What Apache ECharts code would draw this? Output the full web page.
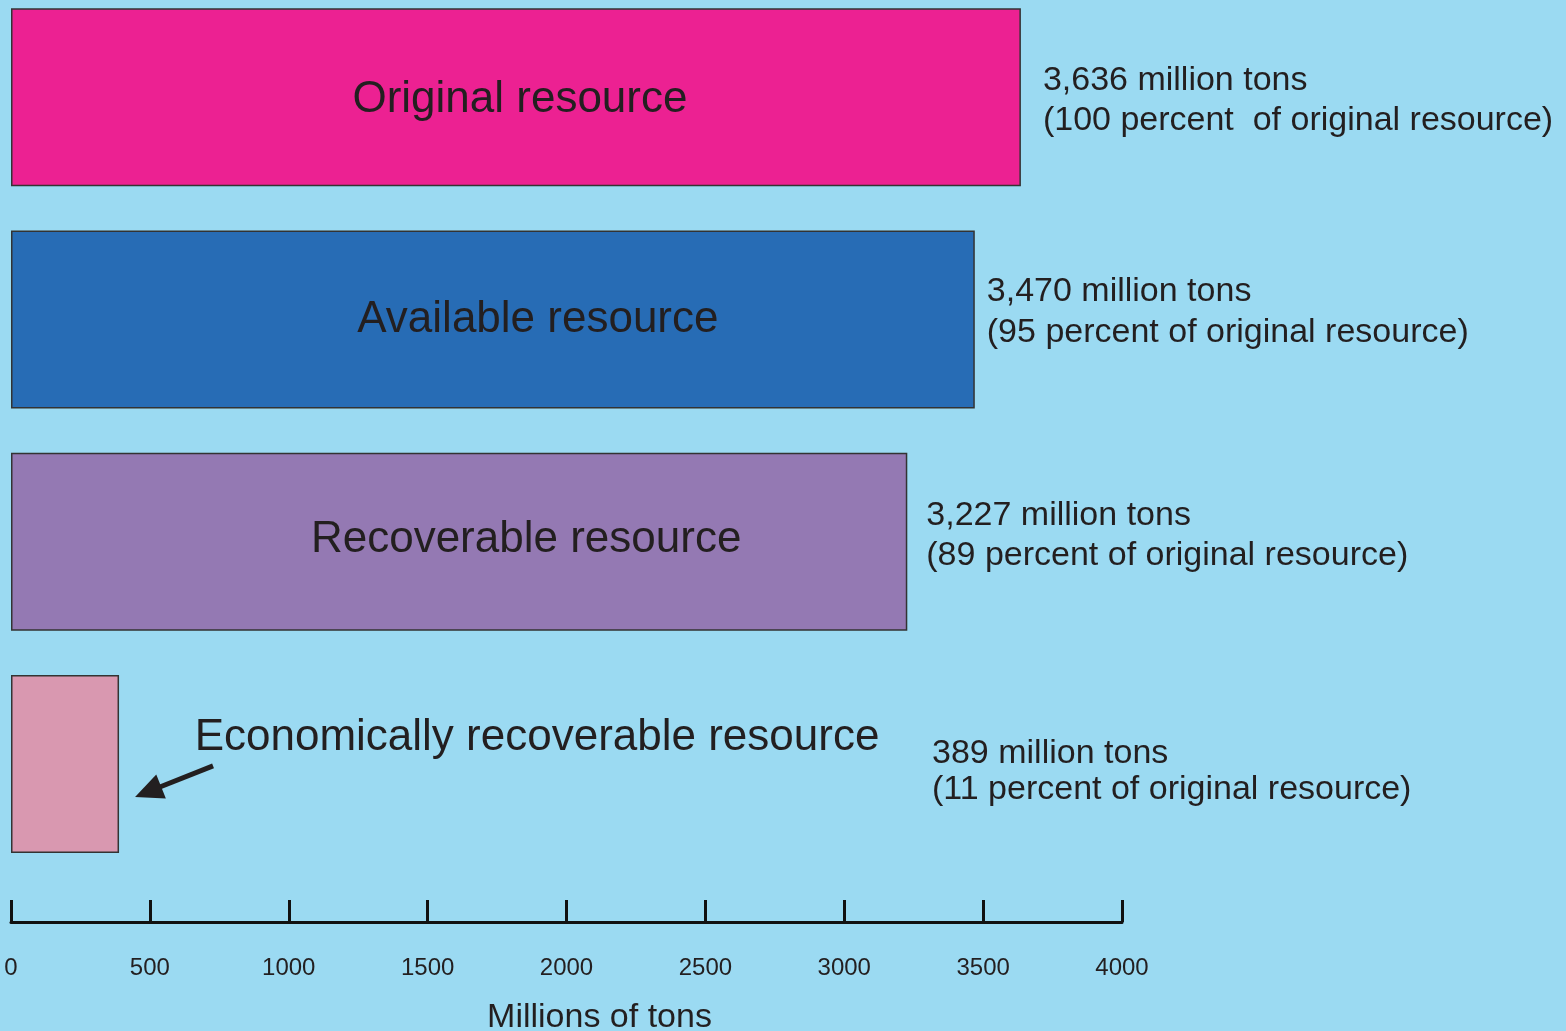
<!DOCTYPE html>
<html>
<head>
<meta charset="utf-8">
<script src="https://cdn.jsdelivr.net/npm/echarts@6/dist/echarts.min.js"></script>
<style>
html,body{margin:0;padding:0;background:#9BDAF2;}
#chart{width:1566px;height:1031px;}
</style>
</head>
<body>
<div id="chart"></div>
<script>
// ---- data ----
const categories = ['Original resource', 'Available resource', 'Recoverable resource', 'Economically recoverable resource'];
const values = [3636, 3470, 3227, 389];
const percents = [100, 95, 89, 11];
const valueTexts = ['3,636 million tons\n(100 percent  of original resource)',
                    '3,470 million tons\n(95 percent of original resource)',
                    '3,227 million tons\n(89 percent of original resource)',
                    '389 million tons\n(11 percent of original resource)'];
const xTicks = [0, 500, 1000, 1500, 2000, 2500, 3000, 3500, 4000];

// ---- styles ----
const colors = ['#EC2192', '#276CB5', '#9479B3', '#D998B0'];
const nameOffsets = [[4, 3], [45, 0], [67, -2], [472, -26]];
const valueDist = [22, 12, 19, 813];
const valueOffsets = [[0, 3], [0, -7], [0, -6], [0, 8]];
const valueLineH = [40, 41, 40, 36];
const textColor = '#231F20';
const FONT = '"Liberation Sans", Arial, Helvetica, sans-serif';

const chart = echarts.init(document.getElementById('chart'));

const nameData = values.map((v, i) => ({
  value: v,
  itemStyle: { color: colors[i] },
  label: { offset: nameOffsets[i] }
}));
const valueData = values.map((v, i) => ({
  value: v,
  label: { distance: valueDist[i], offset: valueOffsets[i], lineHeight: valueLineH[i] }
}));

chart.setOption({
  backgroundColor: '#9BDAF2',
  animation: false,
  grid: { left: 11, right: 444, top: -14, height: 889, containLabel: false, outerBoundsMode: 'none' },
  xAxis: {
    type: 'value', min: 0, max: 4000, interval: 500,
    position: 'bottom', offset: 47,
    splitLine: { show: false },
    axisLine: { show: true, lineStyle: { color: '#111', width: 3 } },
    axisTick: { show: true, inside: true, length: 22, lineStyle: { color: '#111', width: 3 } },
    axisLabel: { margin: 34, fontSize: 24, color: textColor, fontFamily: FONT,
      formatter: v => xTicks.indexOf(v) >= 0 ? String(v) : '' },
    name: 'Millions of tons', nameLocation: 'middle', nameGap: 79,
    nameTextStyle: { fontSize: 34, color: textColor, fontFamily: FONT, padding: [0, 0, 0, 66] }
  },
  yAxis: {
    type: 'category', data: categories, inverse: true, show: false
  },
  series: [
    {
      type: 'bar', data: nameData, barWidth: 178,
      itemStyle: { borderColor: '#333', borderWidth: 1.5 },
      label: { show: true, position: 'inside', formatter: p => p.name,
        fontSize: 44, color: textColor, fontFamily: FONT },
      z: 2
    },
    {
      type: 'bar', data: valueData, barWidth: 178, barGap: '-100%',
      itemStyle: { color: 'rgba(0,0,0,0)' },
      label: { show: true, position: 'right', formatter: p => valueTexts[p.dataIndex],
        fontSize: 34, color: textColor, fontFamily: FONT, align: 'left' },
      z: 3, silent: true
    }
  ]
});

// arrow annotation pointing at the small bar
const p0 = chart.convertToPixel({ gridIndex: 0 }, [values[3], categories[3]]);
const tail = [p0[0] + 94, p0[1] + 2];
const tip = [p0[0] + 16, p0[1] + 33];
const dx = tip[0] - tail[0], dy = tip[1] - tail[1];
const len = Math.sqrt(dx * dx + dy * dy), ux = dx / len, uy = dy / len;
const headL = 28, headW = 13;
const base = [tip[0] - ux * headL, tip[1] - uy * headL];
chart.setOption({
  graphic: [
    { type: 'line', shape: { x1: tail[0], y1: tail[1], x2: base[0] + ux * 4, y2: base[1] + uy * 4 },
      style: { stroke: '#231F20', lineWidth: 5 } },
    { type: 'polygon', shape: { points: [tip,
        [base[0] - uy * headW, base[1] + ux * headW],
        [base[0] + uy * headW, base[1] - ux * headW]] },
      style: { fill: '#231F20' } }
  ]
});
</script>
</body>
</html>
